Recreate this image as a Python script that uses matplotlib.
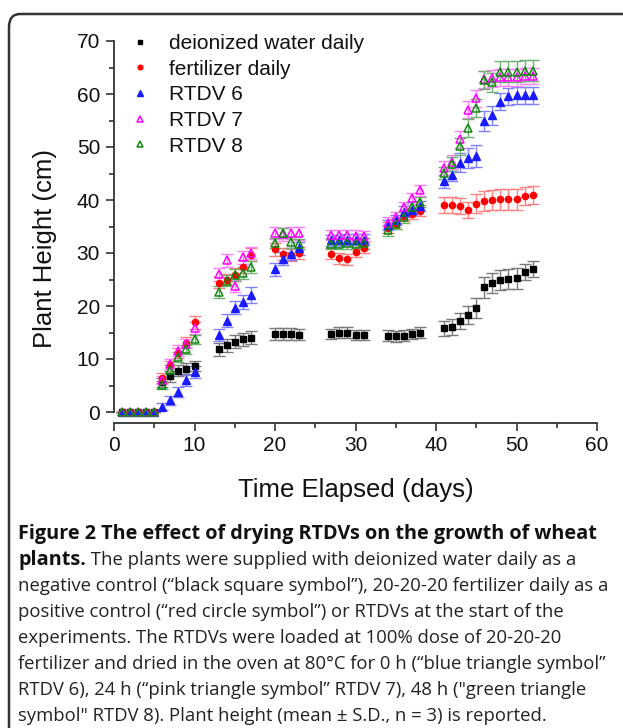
import numpy as np
import matplotlib
matplotlib.use('Agg')
import matplotlib.pyplot as plt
from matplotlib.lines import Line2D
from matplotlib.patches import FancyBboxPatch

# sampling days (same for every treatment)
days = [1, 2, 3, 4, 5, 6, 7, 8, 9, 10,
        13, 14, 15, 16, 17,
        20, 21, 22, 23,
        27, 28, 29, 30, 31,
        34, 35, 36, 37, 38,
        41, 42, 43, 44, 45, 46, 47, 48, 49, 50, 51, 52]

water = [0, 0, 0, 0, 0, 5.6, 6.7, 7.8, 8.2, 8.7,
         11.8, 12.6, 13.3, 13.7, 14.0,
         14.7, 14.7, 14.7, 14.6,
         14.7, 15.0, 15.0, 14.5, 14.5,
         14.4, 14.3, 14.4, 14.7, 15.0,
         15.8, 16.0, 17.1, 18.3, 19.6, 23.5, 24.3, 24.9, 25.1, 25.2, 26.4, 27.0]
water_sd = [0, 0, 0, 0, 0, 0.8, 1.0, 1.1, 1.0, 1.0,
            1.2, 1.2, 1.2, 1.2, 1.2,
            1.1, 1.1, 1.1, 1.1,
            1.0, 1.0, 1.0, 1.0, 1.0,
            1.0, 1.0, 1.0, 1.0, 1.0,
            1.4, 1.5, 1.5, 1.7, 1.9, 1.9, 1.9, 1.9, 1.9, 1.9, 1.5, 1.5]

fert = [0, 0, 0, 0, 0, 6.4, 8.9, 11.1, 13.1, 16.9,
        24.4, 25.0, 25.9, 27.4, 29.7,
        30.7, 29.8, 29.6, 30.0,
        29.9, 29.0, 28.8, 30.2, 31.0,
        34.8, 35.5, 37.0, 37.4, 38.0,
        39.0, 39.0, 38.9, 38.1, 39.3, 39.8, 40.0, 40.1, 40.1, 40.1, 40.7, 40.9]
fert_sd = [0, 0, 0, 0, 0, 0.9, 0.8, 1.0, 1.0, 1.3,
           1.0, 1.0, 1.2, 1.2, 1.3,
           1.2, 1.2, 1.2, 1.2,
           1.0, 1.0, 1.0, 1.0, 1.0,
           1.0, 1.0, 1.0, 1.0, 1.0,
           1.5, 1.5, 1.5, 1.5, 1.8, 1.9, 1.9, 1.9, 1.9, 1.9, 1.7, 1.7]

rtdv6 = [0, 0, 0, 0, 0, 1.0, 2.2, 3.8, 6.0, 7.5,
         14.5, 17.2, 19.7, 20.8, 22.0,
         26.9, 28.9, 29.8, 30.9,
         32.4, 32.4, 32.5, 32.5, 32.5,
         35.3, 36.2, 37.8, 38.2, 38.9,
         43.5, 44.7, 47.0, 47.9, 48.3, 54.9, 56.0, 58.5, 59.6, 59.8, 59.8, 59.8]
rtdv6_sd = [0, 0, 0, 0, 0, 0.7, 0.8, 0.9, 1.0, 1.1,
            1.1, 1.2, 1.3, 1.3, 1.5,
            1.3, 1.2, 1.2, 1.2,
            1.0, 1.0, 1.0, 1.0, 1.0,
            1.0, 1.0, 1.0, 1.0, 1.0,
            1.2, 1.2, 1.8, 1.9, 2.0, 1.9, 1.8, 1.6, 1.6, 1.6, 1.6, 1.6]

rtdv7 = [0, 0, 0, 0, 0, 6.0, 9.1, 11.6, 12.9, 15.8,
         26.0, 28.6, 23.8, 29.2, 30.0,
         33.8, 33.5, 33.8, 33.7,
         33.4, 33.4, 33.4, 33.3, 33.2,
         35.7, 36.7, 38.7, 40.3, 41.8,
         46.0, 47.2, 51.5, 57.0, 59.2, 62.8, 63.0, 63.2, 63.2, 63.2, 63.4, 63.4]
rtdv7_sd = [0, 0, 0, 0, 0, 0.8, 0.9, 1.0, 0.9, 1.1,
            1.2, 1.2, 1.2, 1.2, 1.2,
            1.2, 1.2, 1.2, 1.2,
            1.0, 1.0, 1.0, 1.0, 1.0,
            1.0, 1.0, 1.0, 1.1, 1.1,
            1.3, 1.3, 1.6, 1.6, 1.6, 1.6, 1.6, 1.6, 1.6, 1.6, 1.6, 1.6]

rtdv8 = [0, 0, 0, 0, 0, 5.1, 8.0, 10.4, 11.8, 13.7,
         22.7, 24.8, 25.8, 26.2, 27.3,
         31.9, 33.8, 32.0, 31.7,
         31.7, 31.7, 31.8, 31.7, 31.8,
         34.3, 35.5, 36.7, 38.6, 39.6,
         45.1, 46.8, 50.1, 53.5, 57.4, 62.6, 62.2, 64.2, 64.2, 64.2, 64.4, 64.4]
rtdv8_sd = [0, 0, 0, 0, 0, 0.8, 0.9, 1.0, 0.9, 0.9,
            1.1, 1.1, 1.1, 1.1, 1.1,
            1.0, 1.0, 1.0, 1.0,
            1.0, 1.0, 1.0, 1.0, 1.0,
            1.0, 1.0, 1.0, 1.0, 1.0,
            1.2, 1.4, 1.6, 1.7, 1.7, 1.7, 1.8, 2.0, 2.0, 2.0, 2.0, 2.0]

labels = ['deionized water daily', 'fertilizer daily', 'RTDV 6', 'RTDV 7', 'RTDV 8']

caption_lines = [
    'negative control (\u201cblack square symbol\u201d), 20-20-20 fertilizer daily as a',
    'positive control (\u201cred circle symbol\u201d) or RTDVs at the start of the',
    'experiments. The RTDVs were loaded at 100% dose of 20-20-20',
    'fertilizer and dried in the oven at 80\u00b0C for 0 h (\u201cblue triangle symbol\u201d',
    'RTDV 6), 24 h (\u201cpink triangle symbol\u201d RTDV 7), 48 h ("green triangle',
    'symbol" RTDV 8). Plant height (mean \u00b1 S.D., n = 3) is reported.',
]

W, H = 623, 728
fig = plt.figure(figsize=(W / 100, H / 100), dpi=100)
plt.rcParams['font.family'] = ['Liberation Sans', 'DejaVu Sans']

ax = fig.add_axes([114 / W, 1 - 422.6 / H, (597 - 114) / W, (422.6 - 41) / H])

styles = [
    (water, water_sd, dict(marker='s', color='black', ms=4, mfc='black'), '#7a7a7a'),
    (fert, fert_sd, dict(marker='o', color='#ff0000', ms=4.5, mfc='#ff0000'), '#ff8080'),
    (rtdv6, rtdv6_sd, dict(marker='^', color='#1a1aff', ms=5.5, mfc='#1a1aff'), '#8080ff'),
    (rtdv7, rtdv7_sd, dict(marker='^', color='#ff00ff', ms=5.5, mfc='none', mew=1.1), '#ff80ff'),
    (rtdv8, rtdv8_sd, dict(marker='^', color='#118811', ms=5.5, mfc='none', mew=1.1), '#70b070'),
]

handles = []
for i, (vals, sd, st, ecol) in enumerate(styles):
    ax.errorbar(days, vals, yerr=sd, fmt='none', ecolor=ecol, elinewidth=1.0,
                capsize=4, capthick=1.0, zorder=2 + i)
    ax.plot(days, vals, linestyle='none', zorder=10 + i, **st)
    hst = dict(st)
    hst['ms'] = st['ms'] * 0.75
    handles.append(Line2D([], [], linestyle='none', **hst))

ax.set_xlim(0, 60)
ax.set_ylim(-2, 70)
ax.set_xticks(np.arange(0, 61, 10))
ax.set_xticks(np.arange(5, 60, 10), minor=True)
ax.set_yticks(np.arange(0, 71, 10))
ax.set_yticks(np.arange(5, 70, 10), minor=True)
for s in ['top', 'right']:
    ax.spines[s].set_visible(False)
for s in ['left', 'bottom']:
    ax.spines[s].set_color('#333333')
    ax.spines[s].set_linewidth(1.3)
ax.spines['left'].set_bounds(0, 70)
ax.tick_params(which='major', length=6, width=1.2, color='#333333',
               labelsize=15, labelcolor='#111111', pad=4)
ax.tick_params(which='minor', length=3.5, width=1.2, color='#333333')
ax.set_xlabel('Time Elapsed (days)', fontsize=18.5, color='#111111', labelpad=16)
ax.set_ylabel('Plant Height (cm)', fontsize=18.5, color='#111111')
ax.yaxis.set_label_coords(-0.117, 0.455)

ax.legend(handles, labels, loc='upper left', bbox_to_anchor=(117 / W, 1 - 23.5 / H),
          bbox_transform=fig.transFigure, frameon=False, fontsize=15,
          handlelength=1.2, handletextpad=0.8, labelspacing=0.32, borderpad=0,
          labelcolor='#111111')

# caption
cx = 18 / W
cap_font = ['Open Sans', 'DejaVu Sans']
fig.text(cx, 1 - 534 / H, 'Figure 2 The effect of drying RTDVs on the growth of wheat',
         fontsize=14.3, fontweight='bold', family=cap_font, va='center', color='#111111')
b = fig.text(cx, 1 - 560 / H, 'plants.', fontsize=14.3, fontweight='bold',
             family=cap_font, va='center', color='#111111')
fig.canvas.draw()
bb = b.get_window_extent()
fig.text(bb.x1 / W, 1 - 560 / H, ' The plants were supplied with deionized water daily as a',
         fontsize=13.3, family=cap_font, va='center', color='#222222')
for k, line in enumerate(caption_lines):
    fig.text(cx, 1 - (586 + 26 * k) / H, line, fontsize=13.3, family=cap_font,
             va='center', color='#222222')

# frame around the figure panel
frame = FancyBboxPatch((9 / W, -0.2), 1.2, 1.2 - 14 / H,
                       boxstyle='round,pad=0,rounding_size=0.018',
                       transform=fig.transFigure, fill=False,
                       edgecolor='#333333', linewidth=1.8, clip_on=False)
fig.patches.append(frame)

fig.savefig('out.png', dpi=100)
